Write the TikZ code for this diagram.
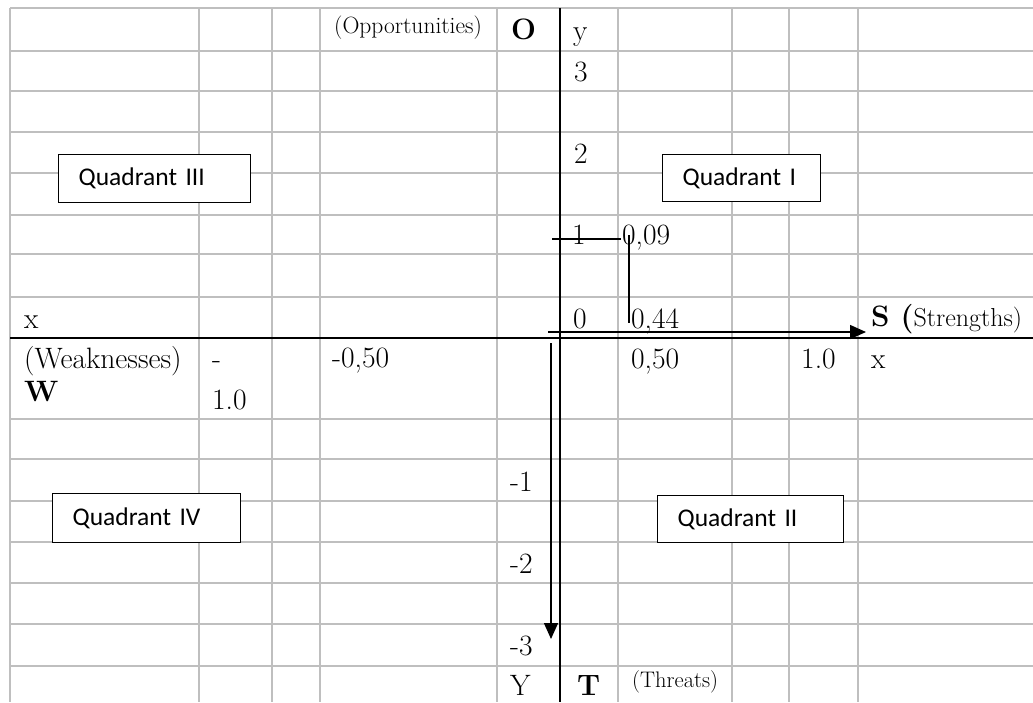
\documentclass[tikz,border=0pt]{standalone}
\usepackage{fontspec}
\newfontfamily\calfont{Carlito}
\usetikzlibrary{arrows.meta}
\definecolor{gridgrey}{RGB}{191,191,191}
\begin{document}
\begin{tikzpicture}[x=1pt,y=-1pt,
  gridline/.style={draw=gridgrey, line width=1.7pt},
  axisline/.style={draw=black, line width=1.8pt},
  thinline/.style={draw=black, line width=1.5pt},
  arrowline/.style={draw=black, line width=1.5pt, -{Triangle[length=16pt,width=14pt]}},
  lbl/.style={anchor=base west, inner sep=0pt, font=\fontsize{29.5}{34}\selectfont},
  boldlbl/.style={anchor=base west, inner sep=0pt, font=\fontsize{29.5}{34}\selectfont\bfseries},
  smalllbl/.style={anchor=base west, inner sep=0pt, font=\fontsize{23}{26}\selectfont},
  quad/.style={draw=black, line width=1.2pt, fill=white, anchor=north west,
    inner xsep=20pt, inner ysep=0pt, align=left, font=\calfont\fontsize{25.5}{30}\selectfont}
]
\useasboundingbox (0,0) rectangle (1033,702);
\fill[white] (0,0) rectangle (1033,702);

% grid
\foreach \yy in {8,51,91,132,173,215,254,297,419,459,501,542,583,624,666}
  \draw[gridline] (10,\yy) -- (1033,\yy);
\foreach \xx in {10,199,272,320,497,618,732,789,858}
  \draw[gridline] (\xx,8) -- (\xx,702);

% axes
\draw[axisline] (10,338) -- (1033,338);
\draw[axisline] (560,8) -- (560,702);

% quadrant boxes
\node[quad, text width=152pt, minimum height=48pt] (q3) at (58,154) {Quadrant III};
\node[quad, text width=118pt, minimum height=47pt] (q1) at (662,154) {Quadrant I};
\node[quad, text width=148pt, minimum height=49pt] (q4) at (52,493) {Quadrant IV};
\node[quad, text width=146pt, minimum height=47pt] (q2) at (657,495) {Quadrant II};

% labels
\node[smalllbl, font=\fontsize{23.5}{27}\selectfont] (opp) at (334,33) {(Opportunities)};
\node[boldlbl] (O) at (511,39) {O};
\node[lbl] (ylab) at (573,40) {y};
\node[lbl] (y3) at (574,81) {3};
\node[lbl] (y2) at (574,163) {2};
\node[lbl] (y1) at (572,244) {1};
\node[lbl] (v009) at (622,244) {0,09};
\node[lbl] (y0) at (573,328) {0};
\node[lbl] (v044) at (631,328) {0,44};
\node[lbl] (xleft) at (24,328) {x};
\node[lbl] (S) at (871,326) {\textbf{S (}{\fontsize{26}{30}\selectfont Strengths)}};
\node[lbl] (weak) at (24,368) {(Weaknesses)};
\node[boldlbl] (W) at (24,401) {W};
\node[lbl] (dash) at (212,368) {-};
\node[lbl] (m10) at (212,409) {1.0};
\node[lbl] (m050) at (332,367) {-0,50};
\node[lbl] (p050) at (631,368) {0,50};
\node[lbl] (p10) at (801,368) {1.0};
\node[lbl] (xright) at (871,368) {x};
\node[lbl] (ym1) at (510,491) {-1};
\node[lbl] (ym2) at (510,573) {-2};
\node[lbl] (ym3) at (510,655) {-3};
\node[lbl] (Ylab) at (510,695) {Y};
\node[boldlbl] (T) at (577,695) {T};
\node[smalllbl, font=\fontsize{22.5}{26}\selectfont] (threats) at (632,687) {(Threats)};

% point lines and arrows
\coordinate (h0) at (552,239);
\coordinate (h1) at (621,239);
\coordinate (v0) at (629,235);
\coordinate (v1) at (629,323);
\coordinate (sx0) at (548,332);
\coordinate (sx1) at (866,332);
\coordinate (ty0) at (551,343);
\coordinate (ty1) at (551,639);
\draw[thinline] (h0) -- (h1);
\draw[thinline] (v0) -- (v1);
\draw[arrowline] (sx0) -- (sx1);
\draw[arrowline] (ty0) -- (ty1);
\end{tikzpicture}
\end{document}
